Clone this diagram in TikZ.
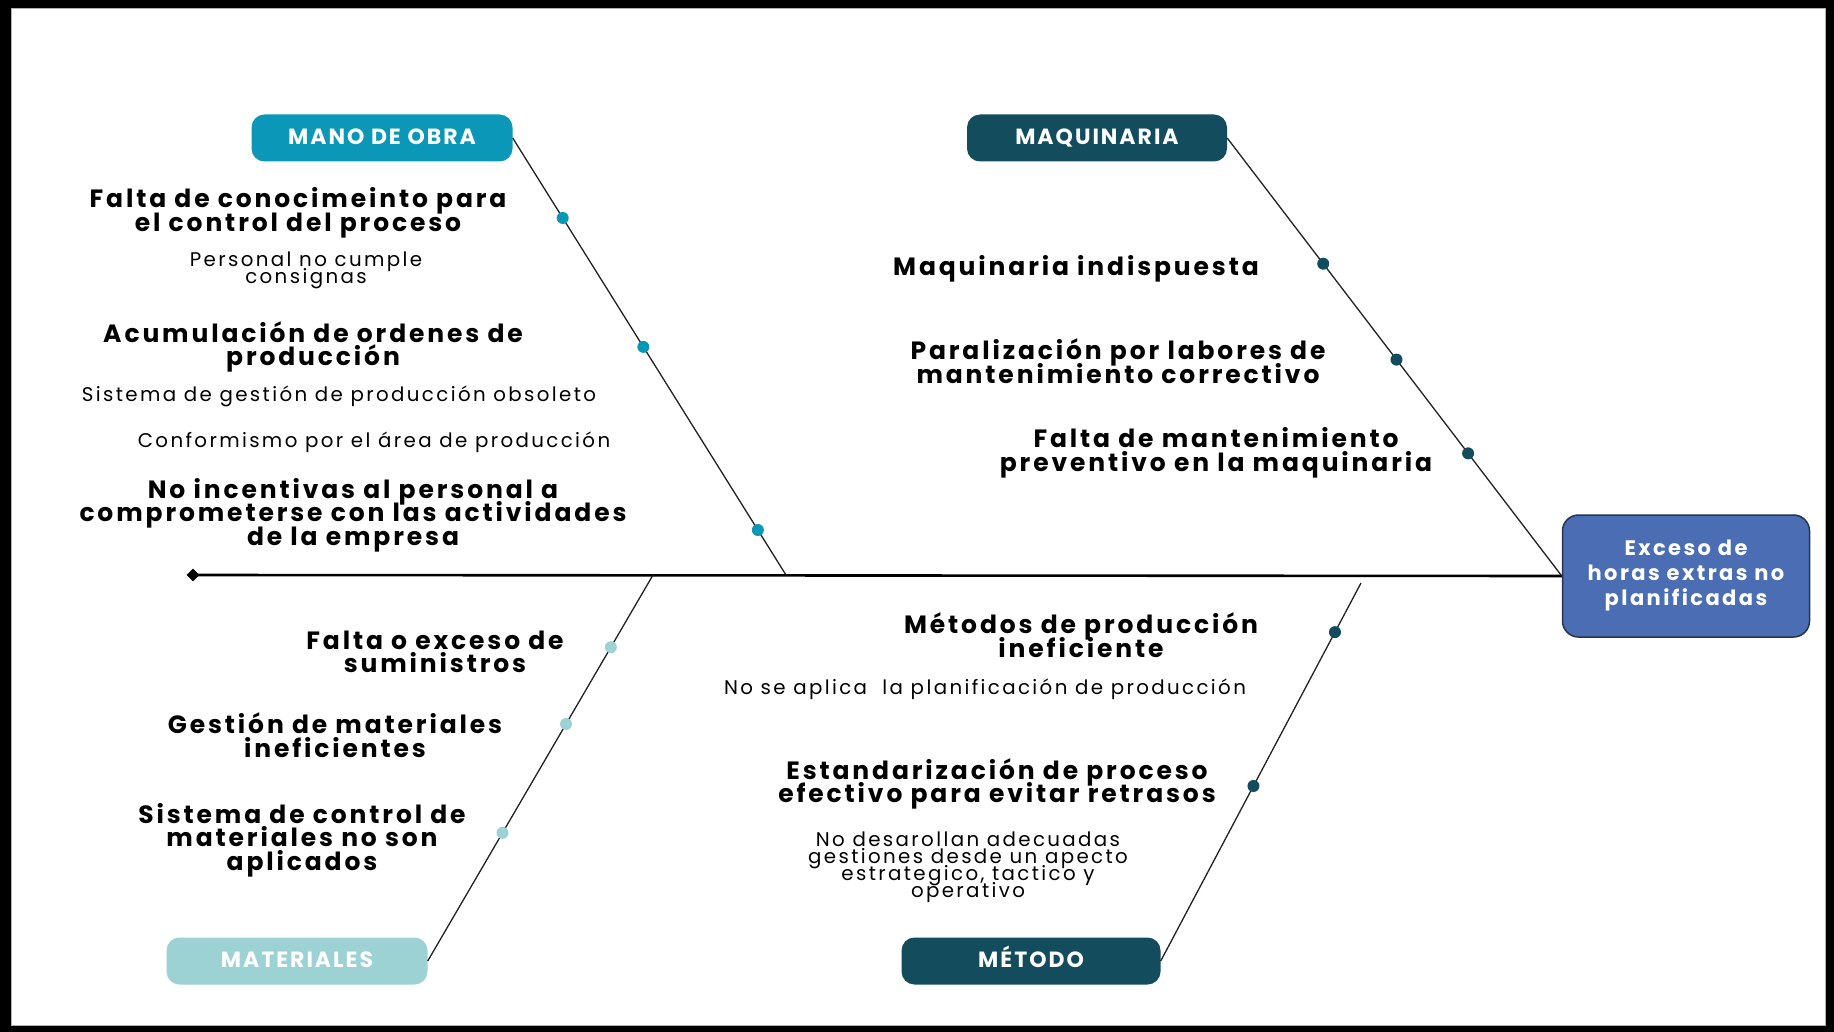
\documentclass[tikz,border=0pt]{standalone}
\usepackage{fontspec}
\setmainfont{Poppins}
\newfontfamily\widefont[LetterSpace=11.5]{Poppins}
\newfontfamily\subfont[LetterSpace=12]{Poppins}
\newfontfamily\capsfont[LetterSpace=9]{Poppins}
\newcommand\tightlines{\lineskiplimit=-40pt\lineskip=0pt\relax}
\usetikzlibrary{shapes.geometric}
\definecolor{manoC}{HTML}{0B97B7}
\definecolor{darkC}{HTML}{124C5D}
\definecolor{lightC}{HTML}{9DD2D4}
\definecolor{effC}{HTML}{4A6DB3}
\definecolor{effLine}{HTML}{26344F}
\definecolor{boneC}{HTML}{222222}
\begin{document}
\begin{tikzpicture}[x=1pt,y=-1pt,
  catbox/.style={rounded corners=13pt, minimum height=47pt, inner sep=0pt,
    text height=15.5pt, text depth=2pt,
    text=white, font=\capsfont\bfseries\fontsize{22}{24}\selectfont},
  effect/.style={rounded corners=16pt, fill=effC, draw=effLine, line width=1.5pt,
    minimum width=247pt, minimum height=122pt, align=center, text=white,
    font={\widefont\bfseries\fontsize{21}{25}\selectfont\tightlines}},
  bone/.style={draw=boneC, line width=1.3pt},
  spine/.style={draw=black, line width=2.6pt},
  dot/.style={circle, inner sep=0pt, minimum size=12pt},
  lbl/.style={align=center, inner sep=0pt,
    font={\widefont\bfseries\fontsize{25}{23.5}\selectfont\tightlines}},
  sub/.style={align=center, inner sep=0pt,
    font={\subfont\fontsize{19.8}{17}\selectfont\tightlines}}]
% frame
\fill[black] (0,0) rectangle (1834,1032);
\fill[white] (11,8) rectangle (1825,1025);
\draw[gray!60, line width=0.8pt] (11,8) rectangle (1825,1025);

% effect box and spine
\node[effect] (eff) at (1686,576) {Exceso de\\horas extras no\\planificadas};
\node[diamond, fill=black, inner sep=0pt, minimum size=13pt] (tail) at (193,575) {};
\draw[spine] (tail.center) -- (eff.west);

% category boxes
\node[catbox, fill=manoC, minimum width=261pt] (mano) at (382,138) {MANO DE OBRA};
\node[catbox, fill=darkC, minimum width=260pt] (maq) at (1097,138) {MAQUINARIA};
\node[catbox, fill=lightC, minimum width=261pt] (mat) at (297,961) {MATERIALES};
\node[catbox, fill=darkC, minimum width=259pt] (met) at (1031,961) {MÉTODO};

% joints on the spine
\coordinate (jmano) at (786,575);
\coordinate (jmat) at (653,575);
\coordinate (jmet) at (1361,583);

% bones with their dots
\draw[bone] (mano.east) -- (jmano)
  node[dot, fill=manoC, pos=0.183] (dm1) {}
  node[dot, fill=manoC, pos=0.478] (dm2) {}
  node[dot, fill=manoC, pos=0.897] (dm3) {};
\draw[bone] (maq.east) -- (eff.west)
  node[dot, fill=darkC, pos=0.287] (dq1) {}
  node[dot, fill=darkC, pos=0.506] (dq2) {}
  node[dot, fill=darkC, pos=0.720] (dq3) {};
\draw[bone] (mat.east) -- (jmat)
  node[dot, fill=lightC, pos=0.813] (dt1) {}
  node[dot, fill=lightC, pos=0.614] (dt2) {}
  node[dot, fill=lightC, pos=0.332] (dt3) {};
\draw[bone] (met.east) -- (jmet)
  node[dot, fill=darkC, pos=0.870] (de1) {}
  node[dot, fill=darkC, pos=0.463] (de2) {};

% mano de obra causes
\node[lbl] (m1) at (298,213) {Falta de conocimeinto para\\el control del proceso};
\node[sub] (m1s) at (306,270) {Personal no cumple\\consignas};
\node[lbl] (m2) at (313,347) {Acumulación de ordenes de\\producción};
\node[sub] (m2s) at (339,396) {Sistema de gestión de producción obsoleto};
\node[sub] (m3s) at (374,442) {Conformismo por el área de producción};
\node[lbl] (m3) at (353,515) {No incentivas al personal a\\comprometerse con las actividades\\de la empresa};

% maquinaria causes
\node[lbl] (q1) at (1076,269) {Maquinaria indispuesta};
\node[lbl] (q2) at (1118,361) {Paralización por labores de\\mantenimiento correctivo};
\node[lbl] (q3) at (1216,453) {Falta de mantenimiento\\preventivo en la maquinaria};

% materiales causes
\node[lbl] (t1) at (435,652) {Falta o exceso de\\suministros};
\node[lbl] (t2) at (335,735) {Gestión de materiales\\ineficientes};
\node[lbl] (t3) at (302,840) {Sistema de control de\\materiales no son\\aplicados};

% metodo causes
\node[lbl] (e1) at (1081,635) {Métodos de producción\\ineficiente};
\node[sub] (e1s) at (985,689) {No se aplica\ \ la planificación de producción};
\node[lbl] (e2) at (997,784) {Estandarización de proceso\\efectivo para evitar retrasos};
\node[sub] (e2s) at (968,867) {No desarollan adecuadas\\gestiones desde un apecto\\estrategico, tactico y\\operativo};
\end{tikzpicture}
\end{document}
